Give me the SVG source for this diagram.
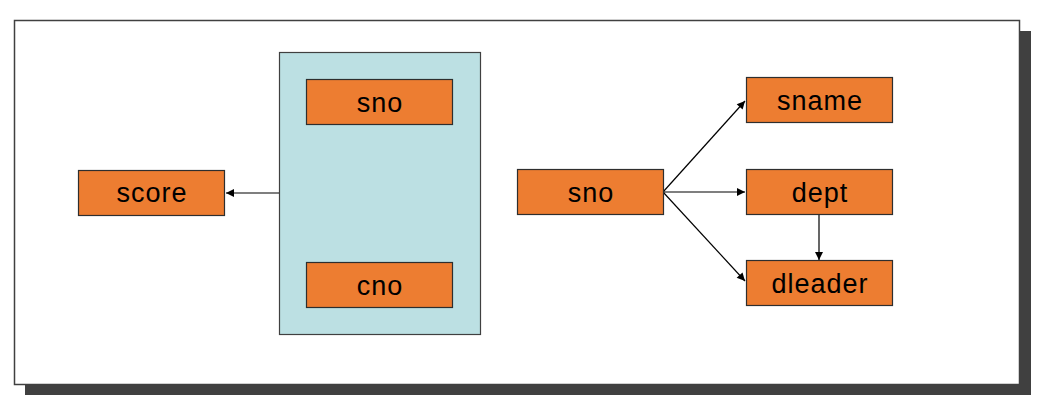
<svg xmlns="http://www.w3.org/2000/svg" width="1049" height="415" viewBox="0 0 1049 415">
<style>
.box{fill:#ED7D31;stroke:#2e2e2e;stroke-width:1.2}
.lbl{font-family:"Liberation Sans",Arial,sans-serif;font-size:27px;letter-spacing:1px;fill:#000;text-anchor:middle}
.con{stroke:#000;stroke-width:1.2;fill:none;marker-end:url(#ah)}
</style>
<defs>
<marker id="ah" viewBox="0 0 10 10" refX="10" refY="5" markerWidth="9" markerHeight="8" markerUnits="userSpaceOnUse" orient="auto">
<path d="M0,0 L10,5 L0,10 z" fill="#000"/>
</marker>
</defs>
<rect x="25" y="31" width="1006" height="364" fill="#404040"/>
<rect x="14.5" y="20.5" width="1005" height="364" fill="#fff" stroke="#404040" stroke-width="1.5"/>
<g id="group">
<rect x="279.5" y="52.5" width="201" height="282" fill="#BCE0E3" stroke="#404040" stroke-width="1.2"/>
</g>
<g id="connectors">
<line class="con" x1="279" y1="193" x2="226" y2="193"/>
<line class="con" x1="663" y1="192" x2="745" y2="101"/>
<line class="con" x1="663" y1="192" x2="745" y2="192"/>
<line class="con" x1="663" y1="192" x2="745" y2="281"/>
<line class="con" x1="819" y1="215" x2="819" y2="260"/>
</g>
<g id="sno1"><rect class="box" x="306.5" y="79.5" width="146" height="45"/><text class="lbl" x="380" y="111.5">sno</text></g>
<g id="cno"><rect class="box" x="306.5" y="262.5" width="146" height="45"/><text class="lbl" x="380" y="294.5">cno</text></g>
<g id="score"><rect class="box" x="78.5" y="170.5" width="146" height="45"/><text class="lbl" x="152" y="202">score</text></g>
<g id="sno2"><rect class="box" x="517.5" y="169.5" width="146" height="45"/><text class="lbl" x="591" y="201.5">sno</text></g>
<g id="sname"><rect class="box" x="746.5" y="77.5" width="146" height="45"/><text class="lbl" x="820" y="109.5">sname</text></g>
<g id="dept"><rect class="box" x="746.5" y="169.5" width="146" height="45"/><text class="lbl" x="820" y="201.5">dept</text></g>
<g id="dleader"><rect class="box" x="746.5" y="260.5" width="146" height="45"/><text class="lbl" x="820" y="292.5">dleader</text></g>
</svg>
